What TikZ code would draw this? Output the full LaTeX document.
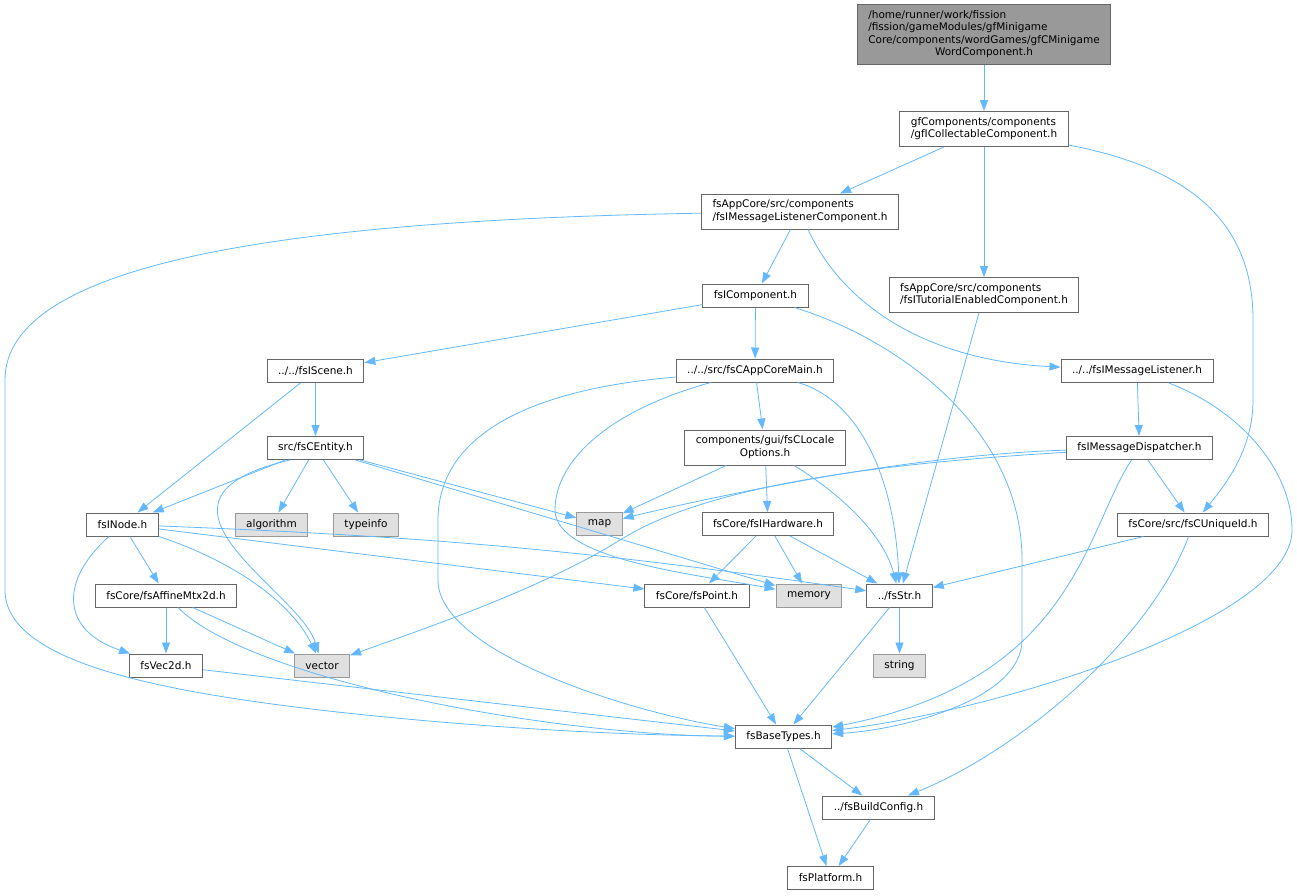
\documentclass[tikz,border=0pt]{standalone}
\usepackage{fontspec}
\setmainfont{DejaVu Sans}
\usetikzlibrary{arrows.meta,positioning}
\definecolor{edgeblue}{HTML}{63B8FF}
\definecolor{boxline}{HTML}{666666}
\definecolor{sysline}{HTML}{999999}
\definecolor{sysfill}{HTML}{E0E0E0}
\newcommand{\hlabel}[2]{\begin{tabular}{@{}l@{}}#1\\\multicolumn{1}{@{}c@{}}{#2}\end{tabular}}

\begin{document}
\begin{tikzpicture}[x=1pt, y=1pt, on grid,
hfile/.style={draw=boxline, line width=1pt, fill=white, inner xsep=11pt,
  inner ysep=5pt, minimum height=23pt, font=\fontsize{10.5}{12.5}\selectfont},
sysh/.style={hfile, draw=sysline, fill=sysfill},
mainh/.style={hfile, fill=sysline},
dep/.style={-{Triangle[length=11pt, width=8pt]}, draw, color=edgeblue, line width=0.8pt}]
\useasboundingbox (0,0) rectangle (1297,-895);

\node [mainh] (main) at (984,-34.5) {\hlabel{/home/runner/work/fission\\/fission/gameModules/gfMinigame\\Core/components/wordGames/gfCMinigame}{WordComponent.h}};
\node [hfile] (collect) [below = 94.5pt of main] {\hlabel{gfComponents/components}{/gfICollectableComponent.h}};
\node [hfile] (listcomp) at (800,-211.5) {\hlabel{fsAppCore/src/components}{/fsIMessageListenerComponent.h}};
\node [hfile] (tutor) [below = 166pt of collect] {\hlabel{fsAppCore/src/components}{/fsITutorialEnabledComponent.h}};
\node [hfile] (comp) at (755.5,-295.5) {fsIComponent.h};
\node [hfile] (scene) at (315.5,-371) {../../fsIScene.h};
\node [hfile] (appmain) at (755,-370.5) {../../src/fsCAppCoreMain.h};
\node [hfile] (listener) at (1137,-371) {../../fsIMessageListener.h};
\node [hfile] (entity) [below = 77pt of scene] {src/fsCEntity.h};
\node [hfile] (locale) at (765,-447.5) {\hlabel{components/gui/fsCLocale}{Options.h}};
\node [hfile] (dispatch) at (1139.5,-448) {fsIMessageDispatcher.h};
\node [hfile] (inode) at (122.5,-524.5) {fsINode.h};
\node [sysh] (algo) at (271.5,-524.5) {algorithm};
\node [sysh] (tinfo) at (366,-524.5) {typeinfo};
\node [sysh] (map) at (599.5,-524) {map};
\node [hfile] (hw) at (768,-524) {fsCore/fsIHardware.h};
\node [hfile] (uid) at (1193,-524.5) {fsCore/src/fsCUniqueId.h};
\node [hfile] (affine) at (166,-595.5) {fsCore/fsAffineMtx2d.h};
\node [hfile] (point) at (697,-595.5) {fsCore/fsPoint.h};
\node [sysh] (memory) at (809,-595.5) {memory};
\node [hfile] (str) at (899.5,-595.5) {../fsStr.h};
\node [hfile] (vec) [below = 70pt of affine] {fsVec2d.h};
\node [sysh] (vector) at (322,-665.5) {vector};
\node [sysh] (string) [below = 70pt of str] {string};
\node [hfile] (base) at (783.5,-736.5) {fsBaseTypes.h};
\node [hfile] (build) at (878.5,-807.5) {../fsBuildConfig.h};
\node [hfile] (platform) at (830.5,-878) {fsPlatform.h};

\path [dep]
(main) edge (collect)
(collect) edge (listcomp)
          edge (tutor)
(listcomp) edge (comp)
(tutor) edge (str)
(comp) edge (scene)
       edge (appmain)
(scene) edge (entity)
        edge (inode)
(appmain) edge (locale)
(listener) edge (dispatch)
(entity) edge (inode)
         edge (algo)
         edge (tinfo)
         edge (map)
         edge (memory)
(locale) edge (map)
         edge (hw)
(dispatch) edge (uid)
(inode) edge (affine)
        edge (point)
        edge [bend left=3] (str)
(hw) edge (point)
     edge (memory)
     edge (str)
(uid) edge (str)
(affine) edge (vec)
         edge (vector)
(vec) edge (base)
(point) edge (base)
(str) edge (string)
      edge (base)
(base) edge (build)
       edge (platform)
(build) edge (platform);

\draw [dep] (collect) .. controls (1200,-170) and (1253,-230) .. (1253,-320) -- (1253,-400) .. controls (1253,-450) and (1225,-485) .. (uid);
\draw [dep] (listcomp) .. controls (300,-220) and (5,-260) .. (5,-380) -- (5,-590) .. controls (5,-660) and (150,-690) .. (320,-710) .. controls (450,-725) and (600,-735) .. (base);
\draw [dep] (listcomp) .. controls (840,-300) and (920,-360) .. (listener);
\draw [dep] (comp) .. controls (900,-340) and (1022,-430) .. (1022,-560) -- (1022,-640) .. controls (1022,-700) and (900,-730) .. (base);
\draw [dep] (appmain) .. controls (520,-390) and (438,-440) .. (438,-520) -- (438,-580) .. controls (438,-650) and (620,-710) .. (base);
\draw [dep] (appmain) .. controls (610,-410) and (555,-460) .. (555,-510) .. controls (555,-560) and (700,-575) .. (memory);
\draw [dep] (appmain) .. controls (860,-400) and (895,-480) .. (str);
\draw [dep] (locale) .. controls (850,-500) and (885,-540) .. (str);
\draw [dep] (listener) .. controls (1240,-410) and (1292,-470) .. (1292,-530) .. controls (1292,-620) and (1000,-710) .. (base);
\draw [dep] (dispatch) .. controls (1085,-530) and (1075,-680) .. (base);
\draw [dep] (dispatch) .. controls (900,-455) and (700,-500) .. (map);
\draw [dep] (dispatch) .. controls (850,-465) and (700,-490) .. (620,-540) .. controls (540,-590) and (420,-630) .. (vector);
\draw [dep] (uid) .. controls (1150,-640) and (1020,-750) .. (build);
\draw [dep] (entity.-155) .. controls (120,-500) and (300,-590) .. (vector);
\draw [dep] (inode) .. controls (60,-580) and (60,-630) .. (vec);
\draw [dep] (inode) .. controls (230,-560) and (290,-600) .. (vector);
\draw [dep] (affine) .. controls (250,-680) and (550,-735) .. (base);
\end{tikzpicture}
\end{document}
